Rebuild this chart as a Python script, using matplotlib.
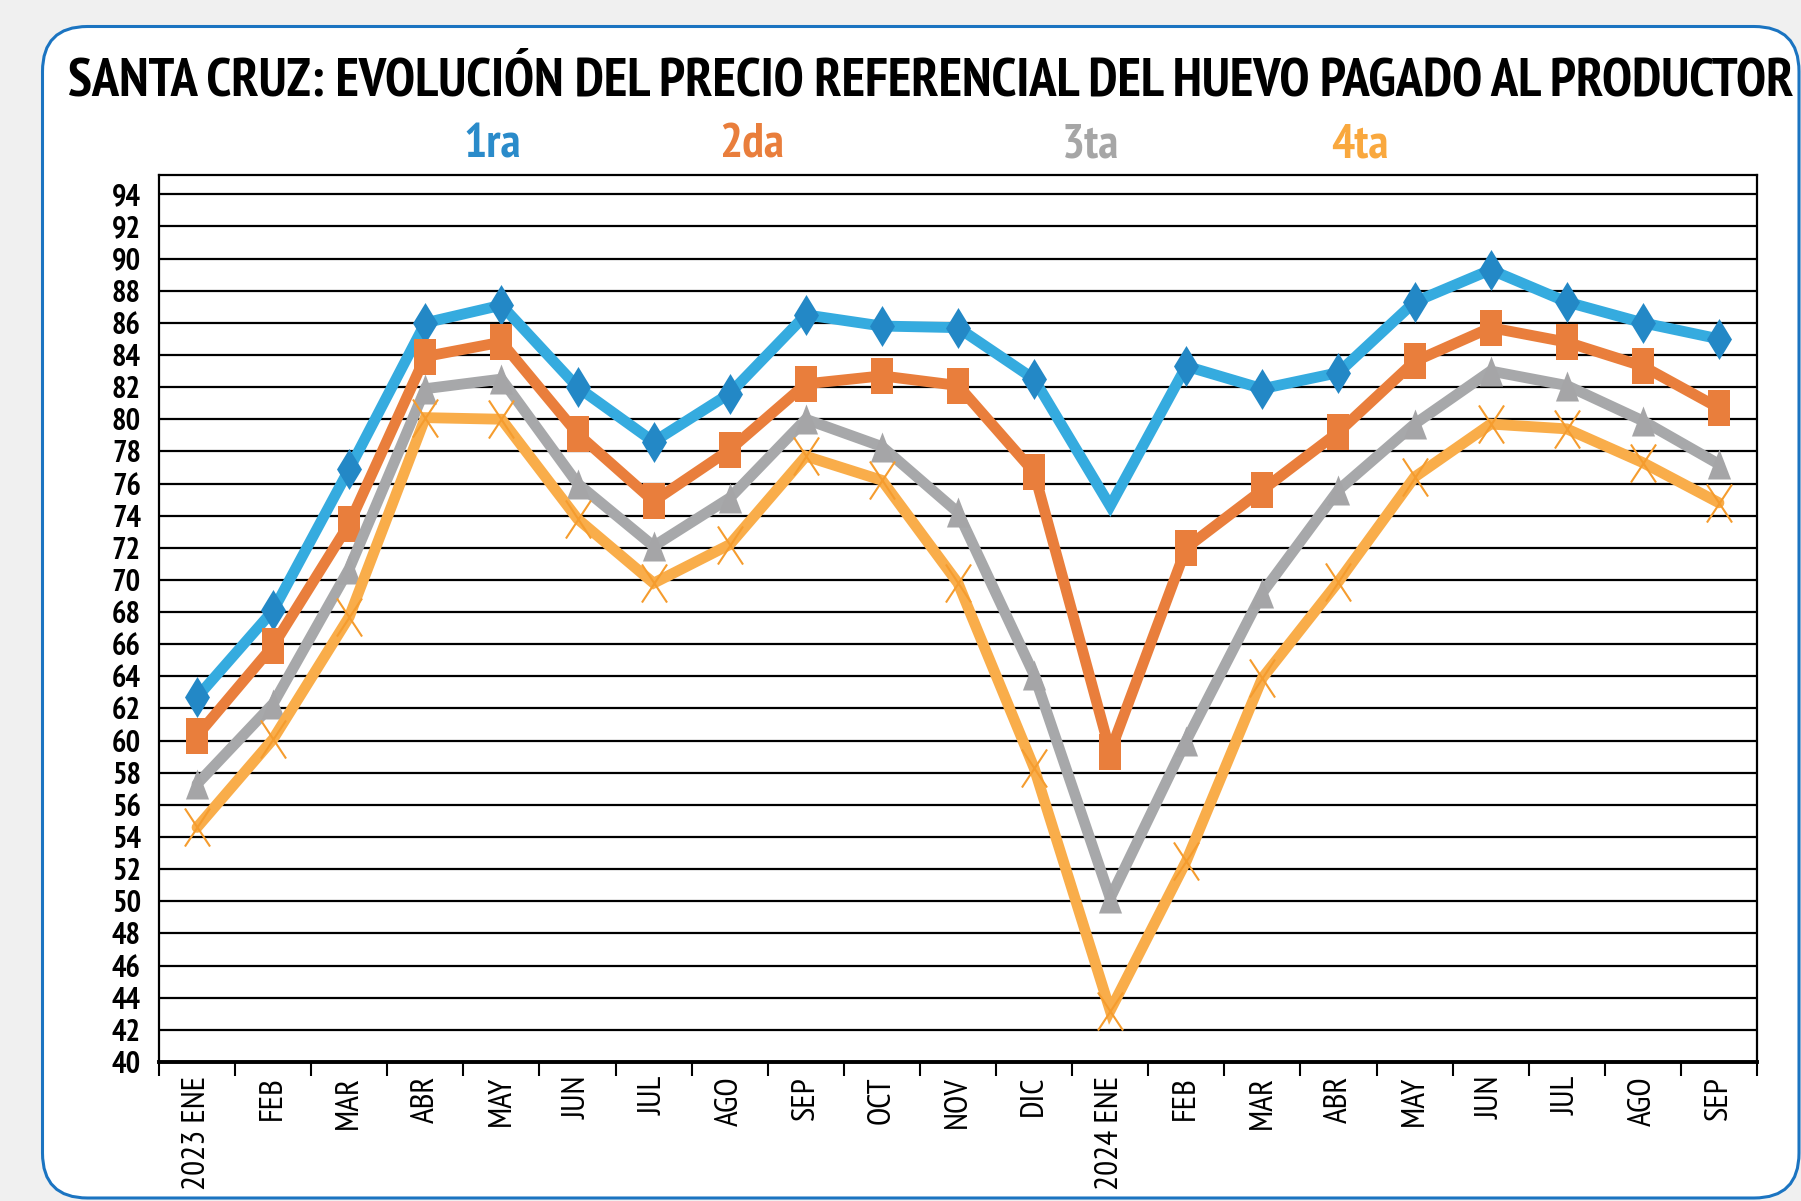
import numpy as np
import matplotlib
matplotlib.use("Agg")
import matplotlib.pyplot as plt
from matplotlib.path import Path
from matplotlib.patches import FancyBboxPatch
from matplotlib import font_manager as fm

# ---------------- data ----------------
months = ["2023 ENE", "FEB", "MAR", "ABR", "MAY", "JUN", "JUL", "AGO", "SEP", "OCT",
          "NOV", "DIC", "2024 ENE", "FEB", "MAR", "ABR", "MAY", "JUN", "JUL", "AGO", "SEP"]
primera = [62.7, 68.1, 76.9, 86.0, 87.1, 82.0, 78.6, 81.6, 86.5, 85.8, 85.7,
           82.5, 74.6, 83.3, 81.9, 82.9, 87.3, 89.3, 87.3, 86.0, 85.0]
segunda = [60.3, 65.9, 73.5, 83.9, 84.8, 79.1, 74.9, 78.1, 82.2, 82.7, 82.1,
           76.7, 59.3, 72.0, 75.6, 79.2, 83.6, 85.7, 84.8, 83.3, 80.7]
tercera = [57.3, 62.3, 70.7, 81.9, 82.5, 76.0, 72.1, 75.1, 80.0, 78.3, 74.2,
           64.1, 50.2, 60.0, 69.2, 75.6, 79.7, 83.0, 82.1, 79.9, 77.2]
cuarta = [54.6, 60.1, 67.7, 80.1, 80.0, 73.8, 69.8, 72.2, 77.7, 76.2, 69.8,
          58.3, 43.2, 52.5, 63.9, 69.9, 76.4, 79.7, 79.4, 77.3, 74.8]
series_names = ["1ra", "2da", "3ta", "4ta"]
yticks = list(range(40, 96, 2))
title = "SANTA CRUZ: EVOLUCIÓN DEL PRECIO REFERENCIAL DEL HUEVO PAGADO AL PRODUCTOR"

# ---------------- fonts ----------------
fonts = fm.fontManager.ttflist


def has(name, weight):
    for f in fonts:
        if f.name == name:
            w = f.weight if isinstance(f.weight, int) else (700 if "bold" in str(f.weight) else 400)
            if abs(w - weight) <= 100 and f.style == "normal":
                return True
    return False


cands = ["Liberation Sans Narrow", "Arial Narrow", "Nimbus Sans Narrow", "PT Sans Narrow",
         "Asap Condensed", "Barlow Semi Condensed"]
BOLD = None
REG = None
for c in cands:
    if BOLD is None and has(c, 700):
        BOLD = dict(family=[c, "DejaVu Sans"])
    if REG is None and has(c, 400):
        REG = dict(family=[c, "DejaVu Sans"])
if BOLD is None:
    BOLD = dict(family=["DejaVu Sans"], stretch="condensed")
if REG is None:
    REG = dict(family=["DejaVu Sans"], stretch="condensed")

W, H = 1801, 1201
fig = plt.figure(figsize=(W / 100, H / 100), dpi=100, facecolor="#f0f0f0")

panel = FancyBboxPatch((0.425, 0.03), 17.565, 11.715,
                       boxstyle="round,pad=0,rounding_size=0.45",
                       transform=fig.dpi_scale_trans, facecolor="white",
                       edgecolor="#1b74c1", linewidth=2.2, zorder=0)
fig.add_artist(panel)

left, right, top, bottom = 159, 1757, 175, 1062
ax = fig.add_axes([left / W, 1 - bottom / H, (right - left) / W, (bottom - top) / H])
ax.set_facecolor("white")
ax.set_xlim(0, len(months))
ax.set_ylim(40, 95.2)

ax.set_yticks(yticks)
ax.yaxis.grid(True, color="#000000", linewidth=1.6, zorder=1)
ax.set_axisbelow(True)
ax.tick_params(axis="y", length=0, pad=13)
ax.set_yticklabels([str(v) for v in yticks], fontsize=22, fontweight="bold", **BOLD)

x = np.arange(len(months)) + 0.5
ax.set_xticks(x)
ax.set_xticklabels(months, rotation=90, ha="center", va="top", fontsize=24, **REG)
ax.set_xticks(np.arange(len(months) + 1), minor=True)
ax.tick_params(axis="x", which="major", length=0, pad=10)
ax.tick_params(axis="x", which="minor", length=10, width=1.5, direction="out", color="black")

for s in ["left", "right", "top"]:
    ax.spines[s].set_linewidth(1.6)
    ax.spines[s].set_color("black")
ax.spines["bottom"].set_linewidth(2.8)
ax.spines["bottom"].set_color("black")

diamond = Path([(0, 1), (0.61, 0), (0, -1), (-0.61, 0), (0, 1)],
               [Path.MOVETO, Path.LINETO, Path.LINETO, Path.LINETO, Path.CLOSEPOLY])
rect = Path([(-0.595, -1), (0.595, -1), (0.595, 1), (-0.595, 1), (-0.595, -1)],
            [Path.MOVETO, Path.LINETO, Path.LINETO, Path.LINETO, Path.CLOSEPOLY])
tri = Path([(0, 1), (0.77, -1), (-0.77, -1), (0, 1)],
           [Path.MOVETO, Path.LINETO, Path.LINETO, Path.CLOSEPOLY])
cross = Path([(-0.66, -1), (0.66, 1), (-0.66, 1), (0.66, -1)],
             [Path.MOVETO, Path.LINETO, Path.MOVETO, Path.LINETO])

styles = [
    dict(vals=primera, line="#35abdf", mcol="#2388c6", marker=diamond, ms=29.5,
         every=[i for i in range(len(months)) if i != 12], txt="#2a8bca"),
    dict(vals=segunda, line="#e97e3c", mcol="#e97e3c", marker=rect, ms=26.6,
         every=None, txt="#e97e3c"),
    dict(vals=tercera, line="#a7a8aa", mcol="#a5a5a7", marker=tri, ms=21.6,
         every=None, txt="#a6a6a6"),
    dict(vals=cuarta, line="#f9ad4a", mcol="#f59c2e", marker=cross, ms=27.4,
         every=None, txt="#f9a83e"),
]

for k, st in enumerate(styles):
    z = 3 + 2 * k
    ax.plot(x, st["vals"], color=st["line"], linewidth=7.8, solid_joinstyle="miter",
            solid_capstyle="round", zorder=z)
    if st["marker"] is cross:
        ax.plot(x, st["vals"], linestyle="none", marker=st["marker"], ms=st["ms"],
                markerfacecolor="none", markeredgecolor=st["mcol"], mew=1.5,
                zorder=z + 1)
    else:
        ax.plot(x, st["vals"], linestyle="none", marker=st["marker"], ms=st["ms"],
                markerfacecolor=st["mcol"], markeredgecolor=st["mcol"], mew=0,
                markevery=st["every"], zorder=z + 1)

leg_x = [492, 752, 1091, 1360]
for name, st, lx in zip(series_names, styles, leg_x):
    fig.text(lx / W, 1 - 157 / H, name, color=st["txt"], fontsize=35,
             fontweight="bold", ha="center", va="baseline", **BOLD)

t = fig.text(68 / W, 1 - 95 / H, title, fontsize=33, fontweight="bold",
             ha="left", va="baseline", color="black", **BOLD)
r = fig.canvas.get_renderer()
wpx = t.get_window_extent(renderer=r).width
t.set_fontsize(33 * 1727.0 / wpx)

fig.savefig("out.png", dpi=100, facecolor=fig.get_facecolor())
